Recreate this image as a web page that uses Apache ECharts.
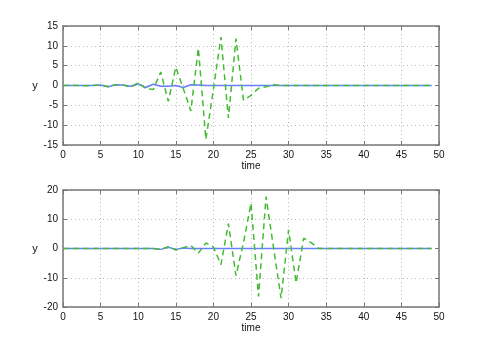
<!DOCTYPE html>
<html>
<head>
<meta charset="utf-8">
<script src="https://cdn.jsdelivr.net/npm/echarts@6/dist/echarts.min.js"></script>
<style>
  html, body { margin: 0; padding: 0; background: #fff; }
  #chart { width: 485px; height: 346px; }
</style>
</head>
<body>
<div id="chart"></div>
<script>
// time samples
var time = [0, 1, 2, 3, 4, 5, 6, 7, 8, 9, 10, 11, 12, 13, 14, 15, 16, 17, 18, 19,
    20, 21, 22, 23, 24, 25, 26, 27, 28, 29, 30, 31, 32, 33, 34, 35, 36, 37, 38, 39,
    40, 41, 42, 43, 44, 45, 46, 47, 48, 49];

// upper plot
var topGreen = [0, 0.05, 0, -0.05, 0.05, 0.1, -0.3, 0.2, 0.1, -0.4,
    0.7, -0.8, -1.0, 3.4, -4.0, 4.6, -0.8, -6.4, 9.4, -13.6,
    -1.0, 12.2, -8.2, 11.8, -3.7, -2.5, -0.7, -0.3, 0.2, 0,
    0, 0, 0, 0, 0, 0, 0, 0, 0, 0,
    0, 0, 0, 0, 0, 0, 0, 0, 0, 0];
var topBlue = [0, 0, 0, 0, 0, 0.1, -0.3, 0.2, 0.1, -0.2,
    0.4, -0.5, 0.3, -0.2, -0.2, 0, -0.5, 0.2, 0.1, 0,
    0, 0, 0, 0, 0, 0, 0, 0, 0, 0,
    0, 0, 0, 0, 0, 0, 0, 0, 0, 0,
    0, 0, 0, 0, 0, 0, 0, 0, 0, 0];

// lower plot
var botGreen = [0, 0, 0, 0, 0, 0, 0, 0, 0, 0,
    0, 0, 0, -0.3, 0.6, -0.5, 0.3, 1.0, -1.6, 1.9,
    0.5, -5.5, 8.5, -9.3, 2.0, 15.5, -16.4, 17.7, 0.2, -17.0,
    6.4, -11.8, 3.5, 2.0, 0, 0, 0, 0, 0, 0,
    0, 0, 0, 0, 0, 0, 0, 0, 0, 0];
var botBlue = [0, 0, 0, 0, 0, 0, 0, 0, 0, 0,
    0, 0, 0, -0.3, 0.4, -0.3, 0.2, 0, 0, 0,
    0, 0, 0, 0, 0, 0, 0, 0, 0, 0,
    0, 0, 0, 0, 0, 0, 0, 0, 0, 0,
    0, 0, 0, 0, 0, 0, 0, 0, 0, 0];

var xTicks = [0, 50, 5];
var topY = [-15, 15, 5];
var botY = [-20, 20, 10];

function pairs(ys) {
    var out = [];
    for (var i = 0; i < ys.length; i++) {
        out.push([time[i], ys[i]]);
    }
    return out;
}

var font = 'Liberation Sans, Arial, sans-serif';
var boxLine = {show: true, onZero: false, lineStyle: {color: '#777', width: 1.5}};
var tick = {show: true, inside: true, length: 4, lineStyle: {color: '#777'}};
var label = {color: '#111', fontSize: 10, fontFamily: font, margin: 5};
var grid = {show: true, lineStyle: {color: '#bbb', type: [1, 3]}};

function xAx(gi, isTop) {
    return {
        type: 'value', gridIndex: gi, position: isTop ? 'top' : 'bottom',
        min: xTicks[0], max: xTicks[1], interval: xTicks[2],
        axisLine: boxLine, axisTick: tick,
        axisLabel: isTop ? {show: false} : label,
        splitLine: isTop ? {show: false} : grid,
        name: isTop ? '' : 'time', nameLocation: 'middle', nameGap: 16,
        nameTextStyle: {color: '#111', fontSize: 10, fontFamily: font}
    };
}
function yAx(gi, r, isRight) {
    return {
        type: 'value', gridIndex: gi, position: isRight ? 'right' : 'left',
        min: r[0], max: r[1], interval: r[2],
        axisLine: boxLine, axisTick: tick,
        axisLabel: isRight ? {show: false} : label,
        splitLine: isRight ? {show: false} : grid,
        name: isRight ? '' : 'y', nameLocation: 'middle', nameGap: 24, nameRotate: 0,
        nameTextStyle: {color: '#111', fontSize: 11, fontFamily: font}
    };
}

function line(xi, yi, data, color, dashed) {
    return {
        type: 'line', xAxisIndex: xi, yAxisIndex: yi, data: pairs(data),
        showSymbol: false, animation: false, silent: true,
        lineStyle: {color: color, width: 1.5, type: dashed ? [6, 4] : 'solid'},
        z: dashed ? 3 : 2
    };
}

var myChart = echarts.init(document.getElementById('chart'));
var option = {
    backgroundColor: '#fff',
    animation: false,
    grid: [
        {left: 63, right: 46, top: 26, height: 119},
        {left: 63, right: 46, top: 190, height: 117}
    ],
    xAxis: [xAx(0, false), xAx(0, true), xAx(1, false), xAx(1, true)],
    yAxis: [yAx(0, topY, false), yAx(0, topY, true), yAx(1, botY, false), yAx(1, botY, true)],
    series: [
        line(0, 0, topBlue, '#6680ff', false),
        line(0, 0, topGreen, '#44bb33', true),
        line(2, 2, botBlue, '#6680ff', false),
        line(2, 2, botGreen, '#44bb33', true)
    ]
};
myChart.setOption(option);
</script>
</body>
</html>
